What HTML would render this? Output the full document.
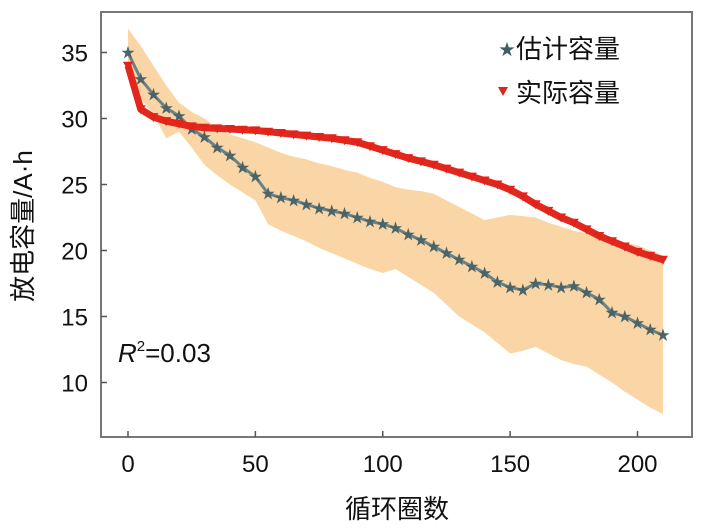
<!DOCTYPE html>
<html><head><meta charset="utf-8"><style>
body{margin:0;background:#fff;}
svg{display:block;font-family:"Liberation Sans","Noto Sans CJK SC",sans-serif;}
</style></head><body>
<svg id="chart" width="703" height="528">
<rect x="101" y="12" width="591" height="425" fill="#fff" stroke="#777" stroke-width="2"/>
<g id="band"></g>
<g id="est"></g>
<g id="act"></g>
<g id="axes"></g>
<g>
<text x="499" y="55" font-size="16" fill="#3f5e66">★</text>
<text x="516" y="58" font-size="26" fill="#111">估计容量</text>
<polygon points="498,87 508,87 503,96" fill="#e2231a"/>
<text x="516" y="102" font-size="26" fill="#111">实际容量</text>
</g>
<text x="118" y="362" font-size="26" fill="#111"><tspan font-style="italic">R</tspan><tspan font-size="15" dy="-11">2</tspan><tspan dy="11">=0.03</tspan></text>
<text x="397" y="518" font-size="26" text-anchor="middle" fill="#111">循环圈数</text>
<text transform="translate(32,226) rotate(-90)" font-size="26" text-anchor="middle" fill="#111">放电容量/A·h</text>
</svg>
<script>
const cycles=[0,5,10,15,20,25,30,35,40,45,50,55,60,65,70,75,80,85,90,95,100,105,110,115,120,125,130,135,140,145,150,155,160,165,170,175,180,185,190,195,200,205,210];
const actual=[34.0,30.7,30.1,29.8,29.6,29.4,29.3,29.25,29.2,29.15,29.1,29.0,28.9,28.8,28.7,28.6,28.5,28.35,28.2,27.9,27.6,27.3,27.0,26.75,26.5,26.2,25.9,25.6,25.3,25.0,24.6,24.1,23.5,23.0,22.5,22.1,21.6,21.1,20.7,20.3,19.9,19.6,19.3];
const estimated=[35.0,33.0,31.8,30.8,30.2,29.2,28.6,27.8,27.2,26.3,25.6,24.3,24.0,23.8,23.5,23.2,23.0,22.8,22.5,22.2,22.0,21.7,21.2,20.8,20.3,19.8,19.3,18.8,18.3,17.6,17.2,17.0,17.5,17.4,17.2,17.3,16.8,16.3,15.3,15.0,14.5,14.0,13.6];
const upper=[36.8,35.5,34.0,32.5,31.2,30.5,30.0,29.3,28.8,28.5,28.2,27.8,27.4,27.1,26.9,26.6,26.4,26.1,25.9,25.5,25.2,24.8,24.6,24.5,24.3,23.8,23.3,22.8,22.3,22.5,22.7,22.6,22.5,22.1,21.8,21.5,21.3,21.0,20.8,20.6,20.4,20.0,19.6];
const lower=[33.5,31.5,30.3,28.5,29.0,27.8,26.5,25.7,25.0,24.4,23.8,22.0,21.5,21.1,20.7,20.2,19.8,19.4,19.0,18.6,18.3,18.6,18.0,17.4,16.8,15.9,15.0,14.4,13.8,13.0,12.2,12.4,12.7,12.2,11.7,11.4,11.2,10.6,10.0,9.3,8.7,8.1,7.6];
const xTicks=[0,50,100,150,200];
const yTicks=[10,15,20,25,30,35];
const xs=v=>128+v*2.5475;
const ys=v=>52.5+(35-v)*13.2;
const NS='http://www.w3.org/2000/svg';
function mk(tag,parent,attrs){const e=document.createElementNS(NS,tag);for(const k in attrs)e.setAttribute(k,attrs[k]);parent.appendChild(e);return e;}
const band=document.getElementById('band');
let pts=cycles.map((c,i)=>xs(c)+','+ys(upper[i]));
for(let i=cycles.length-1;i>=0;i--)pts.push(xs(cycles[i])+','+ys(lower[i]));
const poly=mk('polygon',band,{points:pts.join(' '),fill:'#fad5a5'});


const est=document.getElementById('est');
const el=mk('polyline',est,{points:cycles.map((c,i)=>xs(c)+','+ys(estimated[i])).join(' '),fill:'none',stroke:'#6a8285','stroke-width':3,'stroke-linejoin':'round'});


cycles.forEach((c,i)=>{const t=mk('text',est,{x:xs(c),y:ys(estimated[i])+5,'font-size':14,'text-anchor':'middle',fill:'#4a6468'});t.textContent='★';

});
const act=document.getElementById('act');
const al=mk('polyline',act,{points:cycles.map((c,i)=>xs(c)+','+ys(actual[i])).join(' '),fill:'none',stroke:'#e2281e','stroke-width':7,'stroke-linejoin':'round'});


cycles.forEach((c,i)=>{const x=xs(c),y=ys(actual[i]);const p=mk('polygon',act,{points:`${x-5},${y-4} ${x+5},${y-4} ${x},${y+5}`,fill:'#e2231a'});

});
const axes=document.getElementById('axes');
xTicks.forEach(v=>{const l=mk('line',axes,{x1:xs(v),x2:xs(v),y1:437,y2:431,stroke:'#555','stroke-width':1.5});


const t=mk('text',axes,{x:xs(v),y:472,'font-size':24,'text-anchor':'middle',fill:'#111'});t.textContent=v;

});
yTicks.forEach(v=>{const l=mk('line',axes,{x1:101,x2:107,y1:ys(v),y2:ys(v),stroke:'#555','stroke-width':1.5});


const t=mk('text',axes,{x:88,y:ys(v)+9,'font-size':24,'text-anchor':'end',fill:'#111'});t.textContent=v;

});
</script>
</body></html>
